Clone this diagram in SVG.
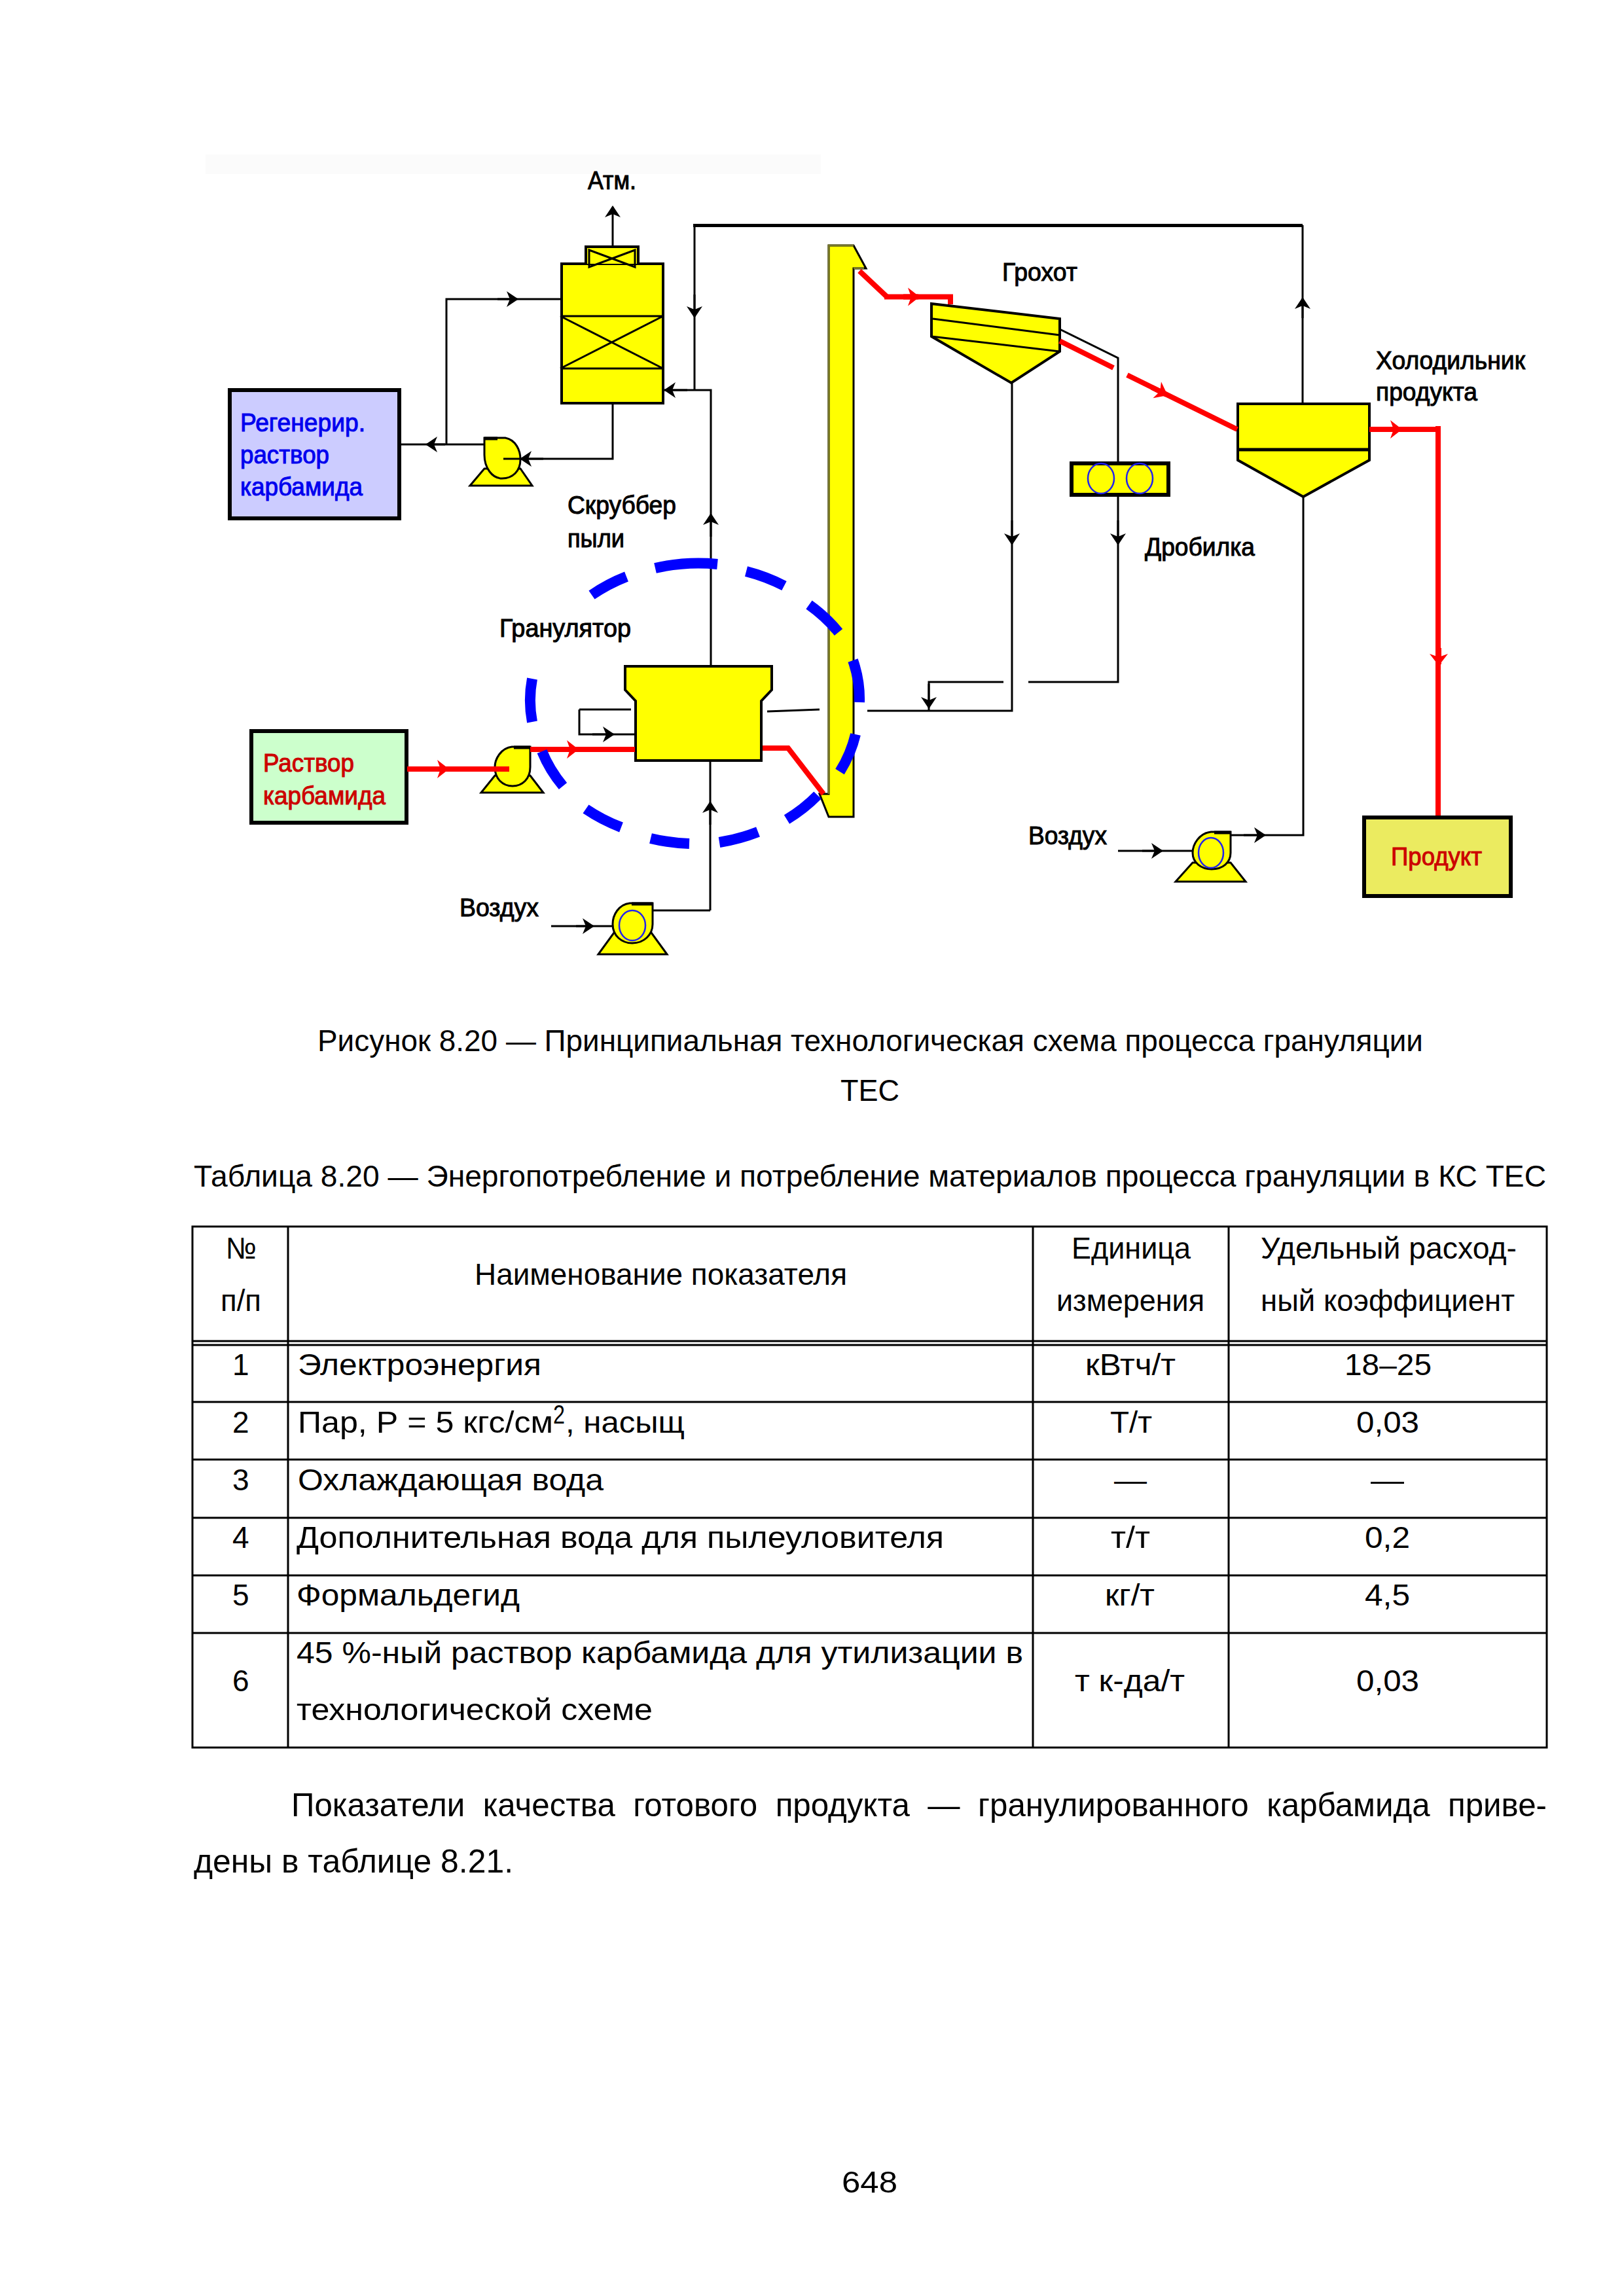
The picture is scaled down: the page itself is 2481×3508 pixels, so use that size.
<svg xmlns="http://www.w3.org/2000/svg" width="2481" height="3508" viewBox="0 0 2481 3508">
<style>
text{font-family:"Liberation Sans",Arial,sans-serif;fill:#000}
.d{font-size:38px;stroke:#000;stroke-width:1px}
.db{font-size:38px;fill:#0000ee;stroke:#0000ee;stroke-width:1px}
.dr{font-size:38px;fill:#cc0000;stroke:#cc0000;stroke-width:1px}
.t{font-size:46px}
.p{font-size:50px}
.eq{fill:#ffff00;stroke:#000;stroke-width:4;stroke-linejoin:miter}
.eqt{fill:#ffff00;stroke:#000;stroke-width:3}
.in{fill:none;stroke:#000;stroke-width:3}
.ln{fill:none;stroke:#000;stroke-width:3}
.ln5{fill:none;stroke:#000;stroke-width:5}
.rd{fill:none;stroke:#ff0000;stroke-width:8;stroke-linejoin:miter}
.ring{fill:none;stroke:#0000ff;stroke-width:16}
.imp{fill:none;stroke:#2222ee;stroke-width:2.5}
.box{stroke:#000;stroke-width:6}
.tb{fill:none;stroke:#000;stroke-width:3}
</style>
<defs>
<marker id="ah" markerUnits="userSpaceOnUse" markerWidth="24" markerHeight="28" refX="16" refY="13" orient="auto"><path d="M0 1L18 13L0 25L5 13Z" fill="#000"/></marker>
<marker id="ar" markerUnits="userSpaceOnUse" markerWidth="24" markerHeight="32" refX="18" refY="15" orient="auto"><path d="M2 1L20 15L2 29L7 15Z" fill="#ff0000"/></marker>
</defs>
<rect width="2481" height="3508" fill="#fff"/>
<rect x="314" y="236" width="940" height="30" fill="#fbfbfb"/>

<g id="nodes">
<g id="regen-box"><rect class="box" x="351" y="596" width="259" height="196" fill="#ccccff"/>
<text class="db" x="367" y="659" textLength="191" lengthAdjust="spacingAndGlyphs">Регенерир.</text>
<text class="db" x="367" y="708" textLength="136" lengthAdjust="spacingAndGlyphs">раствор</text>
<text class="db" x="367" y="757" textLength="187" lengthAdjust="spacingAndGlyphs">карбамида</text></g>
<g id="scrubber"><rect class="eq" x="858" y="403" width="155" height="213"/>
<path class="eq" d="M895 403V377H975V403"/>
<path class="in" d="M856 483H1013M856 563H1013M856 483L1013 563M1013 483L856 563"/>
<path class="in" stroke-width="2" d="M900 382L970 408V382L900 408Z"/>
<text class="d" x="898" y="289" textLength="74" lengthAdjust="spacingAndGlyphs">Атм.</text>
<text class="d" x="867" y="785" textLength="166" lengthAdjust="spacingAndGlyphs">Скруббер</text>
<text class="d" x="867" y="836" textLength="87" lengthAdjust="spacingAndGlyphs">пыли</text></g>
<g id="pump-regen"><path class="eqt" d="M718 742H813L795 716H740Z"/>
<path class="eqt" d="M740 669H772C788 672 795 688 795 702C795 720 783 731 767 731C752 731 740 715 740 695Z"/><path class="ln5" d="M740 670H760"/></g>
<g id="elevator"><path fill="#ffff00" stroke="#000" stroke-width="3" d="M1266 375H1304L1323 410H1304V1248H1266L1252 1213H1266V410Z"/><path fill="none" stroke="#77772a" stroke-width="3" d="M1266 1213V375H1304M1304 410H1320"/></g>
<g id="screen"><path class="eq" d="M1423 464L1619 487V537L1545 585L1423 514Z"/>
<path class="in" d="M1425 487L1619 512M1423 514L1619 537"/>
<text class="d" x="1531" y="429" textLength="115" lengthAdjust="spacingAndGlyphs">Грохот</text></g>
<g id="crusher"><rect class="box" x="1637" y="708" width="148" height="48" fill="#ffff00"/>
<ellipse class="imp" cx="1682" cy="731" rx="20" ry="23"/><ellipse class="imp" cx="1741" cy="731" rx="20" ry="23"/>
<text class="d" x="1749" y="849" textLength="168" lengthAdjust="spacingAndGlyphs">Дробилка</text></g>
<g id="cooler"><path class="eq" d="M1891 617H2092V703L1991 759L1891 703Z"/><path class="ln5" d="M1891 687H2092"/>
<text class="d" x="2102" y="564" textLength="228" lengthAdjust="spacingAndGlyphs">Холодильник</text>
<text class="d" x="2102" y="612" textLength="155" lengthAdjust="spacingAndGlyphs">продукта</text></g>
<g id="granulator"><path class="eq" stroke-width="5" d="M955 1018H1179V1054L1163 1071V1162H971V1071L955 1054Z"/>
<text class="d" x="763" y="973" textLength="201" lengthAdjust="spacingAndGlyphs">Гранулятор</text></g>
<g id="solution-box"><rect class="box" x="384" y="1117" width="237" height="140" fill="#ccffcc"/>
<text class="dr" x="402" y="1179" textLength="139" lengthAdjust="spacingAndGlyphs">Раствор</text>
<text class="dr" x="402" y="1229" textLength="187" lengthAdjust="spacingAndGlyphs">карбамида</text></g>
<g id="pump-solution"><path class="eqt" d="M735 1211H830L810 1185H756Z"/>
<path class="eqt" d="M810 1141H782C765 1143 756 1160 756 1172C756 1190 768 1201 783 1201C798 1201 810 1190 810 1172Z"/><path class="ln5" d="M785 1142H810"/></g>
<g id="pump-air-1"><path class="eqt" d="M914 1458H1019L995 1425H938Z"/>
<path class="eqt" d="M997 1380H962C945 1382 936 1398 936 1412C936 1430 950 1441 966 1441C984 1441 997 1428 997 1412Z"/><path class="ln5" d="M965 1381H997"/>
<ellipse class="imp" cx="966" cy="1414" rx="20" ry="23"/>
<text class="d" x="702" y="1400" textLength="121" lengthAdjust="spacingAndGlyphs">Воздух</text></g>
<g id="pump-air-2"><path class="eqt" d="M1796 1347H1903L1880 1318H1822Z"/>
<path class="eqt" d="M1880 1271H1850C1832 1273 1822 1290 1822 1303C1822 1318 1835 1328 1851 1328C1868 1328 1880 1318 1880 1303Z"/><path class="ln5" d="M1855 1272H1880"/>
<ellipse class="imp" cx="1850" cy="1303" rx="19" ry="23"/>
<text class="d" x="1571" y="1290" textLength="120" lengthAdjust="spacingAndGlyphs">Воздух</text></g>
<g id="product-box"><rect class="box" x="2084" y="1249" width="224" height="120" fill="#ebeb60"/>
<text class="dr" x="2125" y="1322" textLength="139" lengthAdjust="spacingAndGlyphs">Продукт</text></g>
</g>

<g id="connectors">
<path class="ln" d="M936 375V316" marker-end="url(#ah)"/>
<path class="ln" d="M856 457H682V679"/><path class="ln" d="M760 457H790" marker-end="url(#ah)"/>
<path class="ln" d="M741 679H612"/><path class="ln" d="M680 679H652" marker-end="url(#ah)"/>
<path class="ln" d="M936 617V701H769"/><path class="ln" d="M830 701H796" marker-end="url(#ah)"/>
<path class="ln5" d="M1059 344.500H1990"/>
<path class="ln" d="M1061 344V596"/><path class="ln" d="M1061 450V484" marker-end="url(#ah)"/>
<path class="ln" d="M1086 1018V596H1014"/><path class="ln" d="M1050 596H1016" marker-end="url(#ah)"/><path class="ln" d="M1086 820V786" marker-end="url(#ah)"/>
<path class="ln" d="M1990 617V344"/><path class="ln" d="M1990 486V456" marker-end="url(#ah)"/>
<path class="ln" d="M1991 759V1276H1880"/><path class="ln" d="M1900 1276H1932" marker-end="url(#ah)"/>
<path class="ln" d="M1085 1391V1162"/><path class="ln" d="M1085 1260V1226" marker-end="url(#ah)"/>
<path class="ln" d="M997 1391H1085"/>
<path class="ln" d="M842 1415H936"/><path class="ln" d="M880 1415H906" marker-end="url(#ah)"/>
<path class="ln" d="M1708 1300H1822"/><path class="ln" d="M1745 1300H1775" marker-end="url(#ah)"/>
<path class="ln" d="M885 1084H964M885 1084V1122H969"/><path class="ln" d="M905 1122H937" marker-end="url(#ah)"/>
<path class="ln" d="M1619 503L1708 547V706"/>
<path class="ln" d="M1708 757V1042H1571"/><path class="ln" d="M1708 795V831" marker-end="url(#ah)"/>
<path class="ln" d="M1533 1042H1419V1086"/><path class="ln" d="M1419 1045V1081" marker-end="url(#ah)"/>
<path class="ln" d="M1546 585V1086H1325"/><path class="ln" d="M1546 795V831" marker-end="url(#ah)"/>
<path class="ln" d="M1252 1084L1172 1087"/>
<path class="rd" stroke-width="6" d="M1313 414L1355 453.500"/>
<path class="rd" stroke-width="10" d="M1351 453.500H1452V465"/><path class="rd" stroke-width="6" d="M1380 453.500H1403" marker-end="url(#ar)"/>
<path class="rd" d="M1619 521L1701 562"/>
<path class="rd" d="M1722 573L1890 656"/><path class="rd" d="M1760 592L1782 603" marker-end="url(#ar)"/>
<path class="rd" stroke-width="10" d="M2092 656H2200"/><path class="rd" stroke-width="6" d="M2115 656H2140" marker-end="url(#ar)"/>
<path class="rd" stroke-width="7" d="M2197 651V1246"/><path class="rd" stroke-width="6" d="M2198 990V1015" marker-end="url(#ar)"/>
<path class="rd" stroke-width="9" d="M622 1175H778"/><path class="rd" stroke-width="6" d="M660 1175H684" marker-end="url(#ar)"/>
<path class="rd" stroke-width="10" d="M810 1145H970"/><path class="rd" stroke-width="6" d="M860 1145H882" marker-end="url(#ar)"/>
<path class="rd" stroke-width="7" d="M1165 1143H1204L1258 1213"/>
</g>

<g id="granulator-ring" class="ring">
<path d="M813 1103A252 211 0 0 1 813 1037"/>
<path d="M904 909A252 211 0 0 1 957 881"/>
<path d="M1001 868A252 211 0 0 1 1096 862"/>
<path d="M1140 873A252 211 0 0 1 1198 895"/>
<path d="M1236 924A252 211 0 0 1 1281 966"/>
<path d="M1303 1009A252 211 0 0 1 1313 1073"/>
<path d="M1307 1122A252 211 0 0 1 1283 1179"/>
<path d="M1249 1215A252 211 0 0 1 1202 1252"/>
<path d="M1158 1271A252 211 0 0 1 1099 1287"/>
<path d="M1053 1289A252 211 0 0 1 994 1281"/>
<path d="M949 1264A252 211 0 0 1 895 1236"/>
<path d="M860 1201A252 211 0 0 1 828 1148"/>
</g>

<g id="captions">
<text class="t" x="485" y="1606" textLength="1689" lengthAdjust="spacingAndGlyphs">Рисунок 8.20 — Принципиальная технологическая схема процесса грануляции</text>
<text class="t" x="1284" y="1682" textLength="90" lengthAdjust="spacingAndGlyphs">ТЕС</text>
<text class="t" x="296" y="1813" textLength="2066" lengthAdjust="spacingAndGlyphs">Таблица 8.20 — Энергопотребление и потребление материалов процесса грануляции в КС ТЕС</text>
</g>

<g id="table">
<path class="tb" d="M294 1874H2363V2670H294ZM440 1874V2670M1578 1874V2670M1877 1874V2670M294 2049H2363M294 2055H2363M294 2142H2363M294 2230H2363M294 2319H2363M294 2407H2363M294 2495H2363"/>
<text class="t" x="345" y="1923" textLength="47" lengthAdjust="spacingAndGlyphs">№</text>
<text class="t" x="337" y="2003" textLength="62" lengthAdjust="spacingAndGlyphs">п/п</text>
<text class="t" x="725" y="1963" textLength="569" lengthAdjust="spacingAndGlyphs">Наименование показателя</text>
<text class="t" x="1637" y="1923" textLength="182" lengthAdjust="spacingAndGlyphs">Единица</text>
<text class="t" x="1614" y="2003" textLength="226" lengthAdjust="spacingAndGlyphs">измерения</text>
<text class="t" x="1926" y="1923" textLength="391" lengthAdjust="spacingAndGlyphs">Удельный расход-</text>
<text class="t" x="1926" y="2003" textLength="388" lengthAdjust="spacingAndGlyphs">ный коэффициент</text>
<text class="t" x="355" y="2101">1</text>
<text class="t" x="455" y="2101" textLength="372" lengthAdjust="spacingAndGlyphs">Электроэнергия</text>
<text class="t" x="1658" y="2101" textLength="138" lengthAdjust="spacingAndGlyphs">кВтч/т</text>
<text class="t" x="2054" y="2101" textLength="133" lengthAdjust="spacingAndGlyphs">18–25</text>
<text class="t" x="355" y="2189">2</text>
<text class="t" x="455" y="2189" textLength="390" lengthAdjust="spacingAndGlyphs">Пар, Р = 5 кгс/см</text>
<text x="845" y="2175" font-size="40" textLength="18" lengthAdjust="spacingAndGlyphs">2</text>
<text class="t" x="864" y="2189" textLength="182" lengthAdjust="spacingAndGlyphs">, насыщ</text>
<text class="t" x="1696" y="2189" textLength="64" lengthAdjust="spacingAndGlyphs">Т/т</text>
<text class="t" x="2072" y="2189" textLength="96" lengthAdjust="spacingAndGlyphs">0,03</text>
<text class="t" x="355" y="2277">3</text>
<text class="t" x="455" y="2277" textLength="467" lengthAdjust="spacingAndGlyphs">Охлаждающая вода</text>
<text class="t" x="1702" y="2277" textLength="50" lengthAdjust="spacingAndGlyphs">—</text>
<text class="t" x="2094" y="2277" textLength="51" lengthAdjust="spacingAndGlyphs">—</text>
<text class="t" x="355" y="2365">4</text>
<text class="t" x="453" y="2365" textLength="989" lengthAdjust="spacingAndGlyphs">Дополнительная вода для пылеуловителя</text>
<text class="t" x="1697" y="2365" textLength="60" lengthAdjust="spacingAndGlyphs">т/т</text>
<text class="t" x="2085" y="2365" textLength="69" lengthAdjust="spacingAndGlyphs">0,2</text>
<text class="t" x="355" y="2453">5</text>
<text class="t" x="453" y="2453" textLength="341" lengthAdjust="spacingAndGlyphs">Формальдегид</text>
<text class="t" x="1688" y="2453" textLength="76" lengthAdjust="spacingAndGlyphs">кг/т</text>
<text class="t" x="2085" y="2453" textLength="69" lengthAdjust="spacingAndGlyphs">4,5</text>
<text class="t" x="355" y="2584">6</text>
<text class="t" x="453" y="2541" textLength="1110" lengthAdjust="spacingAndGlyphs">45 %-ный раствор карбамида для утилизации в</text>
<text class="t" x="453" y="2628" textLength="544" lengthAdjust="spacingAndGlyphs">технологической схеме</text>
<text class="t" x="1642" y="2584" textLength="168" lengthAdjust="spacingAndGlyphs">т к-да/т</text>
<text class="t" x="2072" y="2584" textLength="96" lengthAdjust="spacingAndGlyphs">0,03</text>
</g>

<g id="body-text">
<text class="p" x="445" y="2775" word-spacing="14" textLength="1918" lengthAdjust="spacingAndGlyphs">Показатели качества готового продукта — гранулированного карбамида приве-</text>
<text class="p" x="296" y="2861" textLength="488" lengthAdjust="spacingAndGlyphs">дены в таблице 8.21.</text>
<text class="t" x="1286" y="3350" textLength="85" lengthAdjust="spacingAndGlyphs">648</text>
</g>
</svg>
